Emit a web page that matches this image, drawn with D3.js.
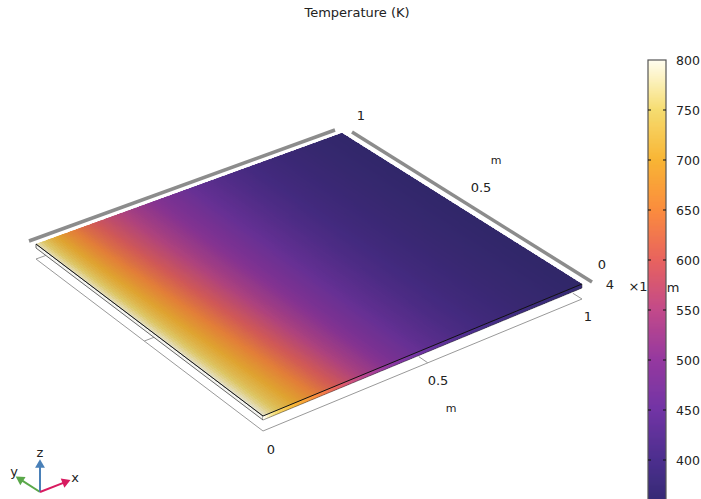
<!DOCTYPE html>
<html>
<head>
<meta charset="utf-8">
<title>Temperature (K)</title>
<script src="https://cdn.jsdelivr.net/npm/d3@7"></script>
<style>
  html, body { margin: 0; padding: 0; background: #fff; overflow: hidden; }
  text { font-family: "DejaVu Sans", sans-serif; fill: #222; }
</style>
</head>
<body>
<div class="chart"></div>
<script>
//temperature read along the plate, at these x positions (m)
var xPositions = [0, 0.02, 0.05, 0.1, 0.15, 0.2, 0.3, 0.4, 0.5, 0.6, 0.7, 0.8, 0.9, 1];
//temperature (K) along the front edge (y = 0) and the back edge (y = 1)
var tempFront = [800, 770, 735, 695, 655, 612, 538, 478, 438, 410, 390, 375, 365, 357];
var tempBack = [790, 755, 715, 665, 622, 588, 532, 485, 446, 418, 396, 380, 368, 360];

//colour bar ticks and the colours it goes through
var barTicks = [800, 750, 700, 650, 600, 550, 500, 450, 400];
var colourTemps = [800, 775, 750, 700, 650, 600, 550, 500, 450, 400, 350];
var colourStops = ["#fffdf0", "#fbeeb0", "#f6dc70", "#f8b535", "#fb8c3e", "#e8635f", "#c24a8a", "#9539a0", "#7235a5", "#4c2f8e", "#322a70"];

//axis labels of the plot box
var axisTicks = [0, 0.5, 1];

var width = 701, height = 499;

//where the plate corners land on the screen
var cornerFront = [263, 416], cornerRight = [582, 284], cornerTop = [342, 133], cornerLeft = [36, 244];
var plateDepth = 4; //thickness of the plate on screen
var boxDrop = 15; //distance from the plate down to the plot box
var shading = 0.3; //the lit surface is a bit darker than the colour bar

//solves the projective map from the unit square to the four corners
function makeProjection(p00, p10, p11, p01) {
  var dx1 = p10[0] - p11[0], dx2 = p01[0] - p11[0], sx = p00[0] - p10[0] + p11[0] - p01[0];
  var dy1 = p10[1] - p11[1], dy2 = p01[1] - p11[1], sy = p00[1] - p10[1] + p11[1] - p01[1];
  var det = dx1 * dy2 - dx2 * dy1;
  var g = (sx * dy2 - dx2 * sy) / det;
  var h = (dx1 * sy - sx * dy1) / det;
  var a = p10[0] - p00[0] + g * p10[0], b = p01[0] - p00[0] + h * p01[0];
  var d = p10[1] - p00[1] + g * p10[1], e = p01[1] - p00[1] + h * p01[1];
  return function(x, y) {
    var w = g * x + h * y + 1;
    return [(a * x + b * y + p00[0]) / w, (d * x + e * y + p00[1]) / w];
  };
}

var project = makeProjection(cornerFront, cornerRight, cornerTop, cornerLeft);

//same projection but moved down, used for the side faces and the box
function dropped(x, y, drop) {
  var p = project(x, y);
  return [p[0], p[1] + drop];
}

var frontScale = d3.scaleLinear().domain(xPositions).range(tempFront);
var backScale = d3.scaleLinear().domain(xPositions).range(tempBack);
var colourScale = d3.scaleLinear().domain(colourTemps).range(colourStops).clamp(true);

//temperature at a point on the plate
function tempAt(x, y) {
  return frontScale(x) * (1 - y) + backScale(x) * y;
}

//colour of the plate at a point, with the shading
function plateColour(x, y) {
  return d3.rgb(colourScale(tempAt(x, y))).darker(shading).formatHex();
}

var svg = d3.select(".chart").append("svg")
  .attr("width", width)
  .attr("height", height)
  .style("display", "block");

var line = d3.line();

//plot box under the plate
var box = svg.append("g")
  .attr("fill", "none")
  .attr("stroke", "#999")
  .attr("stroke-width", 1);

box.append("path")
  .attr("d", line([dropped(0, 1, boxDrop), dropped(0, 0, boxDrop), dropped(1, 0, boxDrop)]));

//small ticks on the box
axisTicks.forEach(function(t) {
  if (t > 0) {
    box.append("path").attr("d", line([dropped(t, 0, boxDrop), dropped(t, 0.035, boxDrop)]));
    box.append("path").attr("d", line([dropped(0, t, boxDrop), dropped(0.035, t, boxDrop)]));
  }
});

//thick grey axis bars behind the plate
var bars = svg.append("g")
  .attr("fill", "none")
  .attr("stroke", "#8c8c8c")
  .attr("stroke-width", 3.5);

bars.append("path").attr("d", function() {
  var a = project(0, 1), b = project(1, 1);
  return line([[a[0] - 7, a[1] - 3], [b[0] - 7, b[1] - 3]]);
});
bars.append("path").attr("d", function() {
  var a = project(1, 1), b = project(1, 0);
  return line([[a[0] + 10, a[1] - 1], [b[0] + 10, b[1] - 2]]);
});

//left side face of the plate
svg.append("path")
  .attr("d", line([project(0, 1), project(0, 0), dropped(0, 0, plateDepth), dropped(0, 1, plateDepth)]) + "Z")
  .attr("fill", "#f4f4f0")
  .attr("stroke", "#444")
  .attr("stroke-width", 0.8);

//cells of the top face and the front side face
var stepSize = 1 / 160, rowSize = 1 / 40;
var steps = d3.range(160).map(function(i) { return i * stepSize; });
var rows = d3.range(40).map(function(i) { return i * rowSize; });

var cells = [];
rows.forEach(function(y) {
  steps.forEach(function(x) {
    cells.push({ x: x, y: y });
  });
});

//clip to the plate so the crisp cells still get a smooth outline
svg.append("clipPath")
  .attr("id", "plate-clip")
  .append("path")
  .attr("d", line([project(0, 0), project(1, 0), project(1, 1), project(0, 1)]) + "Z");

svg.append("clipPath")
  .attr("id", "side-clip")
  .append("path")
  .attr("d", line([project(0, 0), project(1, 0), dropped(1, 0, plateDepth), dropped(0, 0, plateDepth)]) + "Z");

svg.append("g")
  .attr("clip-path", "url(#side-clip)")
  .attr("shape-rendering", "crispEdges")
  .selectAll("path")
  .data(steps)
  .enter()
  .append("path")
  .attr("d", function(x) {
    return line([project(x, 0), project(x + stepSize, 0), dropped(x + stepSize, 0, plateDepth), dropped(x, 0, plateDepth)]) + "Z";
  })
  .attr("fill", function(x) { return colourScale(tempAt(x, 0)); })
  .attr("stroke", function(x) { return colourScale(tempAt(x, 0)); })
  .attr("stroke-width", 1);

svg.append("g")
  .attr("clip-path", "url(#plate-clip)")
  .attr("shape-rendering", "crispEdges")
  .selectAll("path")
  .data(cells)
  .enter()
  .append("path")
  .attr("d", function(c) {
    return line([project(c.x, c.y), project(c.x + stepSize, c.y), project(c.x + stepSize, c.y + rowSize), project(c.x, c.y + rowSize)]) + "Z";
  })
  .attr("fill", function(c) { return plateColour(c.x + stepSize / 2, c.y + rowSize / 2); })
  .attr("stroke", function(c) { return plateColour(c.x + stepSize / 2, c.y + rowSize / 2); })
  .attr("stroke-width", 1);

//black edges of the plate
svg.append("path")
  .attr("d", line([project(0, 1), project(0, 0), project(1, 0)]))
  .attr("fill", "none")
  .attr("stroke", "#111")
  .attr("stroke-width", 1);
svg.append("path")
  .attr("d", line([dropped(0, 0, plateDepth), dropped(1, 0, plateDepth), project(1, 0)]))
  .attr("fill", "none")
  .attr("stroke", "#333")
  .attr("stroke-width", 0.5);

//text labels around the plate
function label(x, y, txt, size) {
  svg.append("text")
    .attr("x", x)
    .attr("y", y)
    .attr("text-anchor", "middle")
    .attr("font-size", size || 13)
    .text(txt);
}

label(357, 17, "Temperature (K)", 13);
label(361, 120, String(axisTicks[2]));
label(496, 164, "m", 11);
label(481, 192, String(axisTicks[1]));
label(602, 269, String(axisTicks[0]));
label(610, 289, "4");
label(638, 291, "×1");
label(673, 292, "m");
label(588, 321, String(axisTicks[2]));
label(438, 385, String(axisTicks[1]));
label(451, 412, "m", 11);
label(271, 454, String(axisTicks[0]));

//colour bar, one thin rect per kelvin
var barY = d3.scaleLinear().domain([800, 350]).range([60, 510]);
var barLeft = 648, barRight = 666;

svg.append("g").selectAll("rect")
  .data(d3.range(350, 800))
  .enter()
  .append("rect")
  .attr("x", barLeft)
  .attr("width", barRight - barLeft)
  .attr("y", function(t) { return barY(t + 1); })
  .attr("height", 1.2)
  .attr("fill", function(t) { return colourScale(t + 0.5); });

svg.append("rect")
  .attr("x", barLeft)
  .attr("y", barY(800))
  .attr("width", barRight - barLeft)
  .attr("height", barY(350) - barY(800))
  .attr("fill", "none")
  .attr("stroke", "#555")
  .attr("stroke-width", 1.2);

//tick marks on both sides of the bar and the labels on the right
var barAxis = d3.axisRight(barY).tickValues(barTicks).tickSize(0).tickPadding(10);
var barAxisGroup = svg.append("g")
  .attr("transform", "translate(" + barRight + ",0)")
  .call(barAxis);
barAxisGroup.select(".domain").remove();
barAxisGroup.selectAll("text")
  .attr("font-size", 12.5)
  .attr("font-family", "DejaVu Sans");

svg.append("g").selectAll("path")
  .data(barTicks.slice(1))
  .enter()
  .append("path")
  .attr("d", function(t) {
    return "M" + barLeft + "," + barY(t) + "h3M" + barRight + "," + barY(t) + "h-3";
  })
  .attr("stroke", "#111")
  .attr("stroke-width", 1);

//coordinate triad in the corner
var triadOrigin = [40, 492];
var triad = [
  { name: "y", colour: "#5aa84a", end: [18, 478], text: [14, 476] },
  { name: "z", colour: "#4a80b8", end: [40, 462], text: [40, 457] },
  { name: "x", colour: "#d81b60", end: [68, 481], text: [75, 482] }
];

triad.forEach(function(a) {
  var angle = Math.atan2(a.end[1] - triadOrigin[1], a.end[0] - triadOrigin[0]);
  svg.append("line")
    .attr("x1", triadOrigin[0]).attr("y1", triadOrigin[1])
    .attr("x2", a.end[0] - 5 * Math.cos(angle)).attr("y2", a.end[1] - 5 * Math.sin(angle))
    .attr("stroke", a.colour)
    .attr("stroke-width", 2);
  svg.append("path")
    .attr("d", d3.symbol().type(d3.symbolTriangle).size(42))
    .attr("transform", "translate(" + (a.end[0] - 3 * Math.cos(angle)) + "," + (a.end[1] - 3 * Math.sin(angle)) + ") rotate(" + (angle * 180 / Math.PI + 90) + ")")
    .attr("fill", a.colour);
  label(a.text[0], a.text[1], a.name, 13);
});
</script>
</body>
</html>
